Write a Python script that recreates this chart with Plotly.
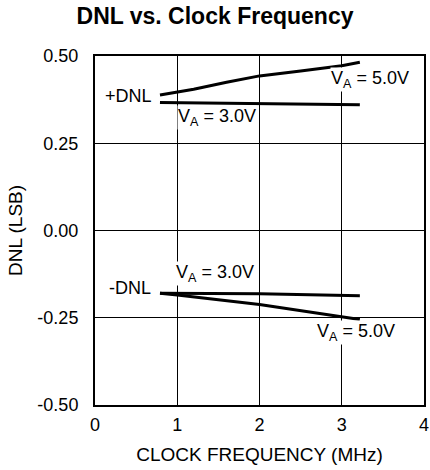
import plotly.graph_objects as go

# Frequência de clock (MHz) e DNL (LSB)
freq_pos_5v = [0.79, 1.2, 1.6, 2.0, 2.5, 3.0, 3.22]
dnl_pos_5v = [0.388, 0.405, 0.425, 0.443, 0.457, 0.472, 0.482]

freq_pos_3v = [0.79, 2.0, 3.22]
dnl_pos_3v = [0.367, 0.363, 0.360]

freq_neg_3v = [0.79, 2.0, 3.22]
dnl_neg_3v = [-0.180, -0.181, -0.187]

freq_neg_5v = [0.79, 1.0, 2.0, 3.0, 3.22]
dnl_neg_5v = [-0.180, -0.185, -0.212, -0.246, -0.255]

y_ticks = [-0.5, -0.25, 0.0, 0.25, 0.5]
y_labels = ['-0.50', '-0.25', '0.00', '0.25', '0.50']
x_ticks = [0, 1, 2, 3, 4]

FONT = 'Liberation Sans, Arial, sans-serif'

fig = go.Figure()
for fx, fy in [(freq_pos_5v, dnl_pos_5v), (freq_pos_3v, dnl_pos_3v),
               (freq_neg_3v, dnl_neg_3v), (freq_neg_5v, dnl_neg_5v)]:
    fig.add_trace(go.Scatter(x=fx, y=fy, mode='lines',
                             line=dict(color='black', width=3),
                             showlegend=False, hoverinfo='skip'))

# Rótulos das curvas
labels = [
    ('+DNL', 0.71, 0.384, 'right'),
    ('V<sub>A</sub> = 5.0V', 3.34, 0.433, 'center'),
    ('V<sub>A</sub> = 3.0V', 1.48, 0.324, 'center'),
    ('V<sub>A</sub> = 3.0V', 1.46, -0.122, 'center'),
    ('-DNL', 0.69, -0.165, 'right'),
    ('V<sub>A</sub> = 5.0V', 3.17, -0.291, 'center'),
]
for text, x, y, anchor in labels:
    fig.add_annotation(x=x, y=y, text=text, showarrow=False, xanchor=anchor,
                       yanchor='middle', bgcolor='white', borderpad=0,
                       font=dict(family=FONT, size=18, color='black'))

axis_style = dict(showline=True, mirror=True, linecolor='black', linewidth=2,
                  showgrid=True, gridcolor='black', gridwidth=1,
                  zeroline=False, ticks='', automargin=False,
                  tickfont=dict(family=FONT, size=18, color='black'))

fig.update_xaxes(range=[0, 4], tickvals=x_ticks, ticklabelstandoff=2,
                 title=dict(text='CLOCK FREQUENCY (MHz)',
                            font=dict(family=FONT, size=19, color='black'),
                            standoff=14),
                 **axis_style)
fig.update_yaxes(range=[-0.5, 0.5], tickvals=y_ticks, ticktext=y_labels,
                 ticklabelstandoff=11,
                 title=dict(text='DNL (LSB)',
                            font=dict(family=FONT, size=19, color='black'),
                            standoff=10),
                 **axis_style)

fig.update_layout(
    width=430, height=470,
    margin=dict(l=95, r=6, t=56, b=65),
    paper_bgcolor='white', plot_bgcolor='white',
    title=dict(text='<b>DNL vs. Clock Frequency</b>', x=0.5, xanchor='center',
               y=0.966, yanchor='middle',
               font=dict(family=FONT, size=23, color='black')),
    showlegend=False,
)

# sem margem do body, para o gráfico ocupar a janela inteira
fig.write_html("out.html", config={'displayModeBar': False},
               post_script="document.body.style.margin = '0';")
